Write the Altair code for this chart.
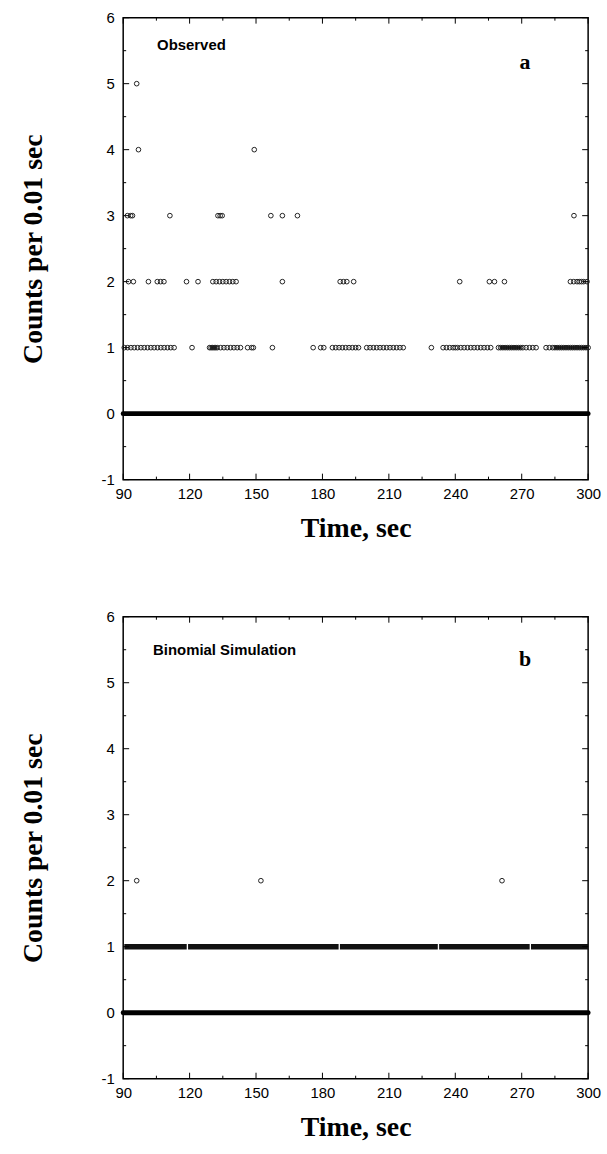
import altair as alt
import pandas as pd

# ---------------- data ----------------
X_TICKS = [90, 120, 150, 180, 210, 240, 270, 300]
X_MINOR = [105, 135, 165, 195, 225, 255, 285]
Y_TICKS = [-1, 0, 1, 2, 3, 4, 5, 6]
Y_MINOR = [-0.5, 0.5, 1.5, 2.5, 3.5, 4.5, 5.5]

# Observed (panel a): times (sec) of bins with a given count
obs_t5 = [96.1]
obs_t4 = [96.9, 149.2]
obs_t3 = [91.9, 93.4, 94.2, 111.1, 132.8, 133.8, 134.7, 156.7, 161.9, 168.7, 293.6]
obs_t2 = [92.4, 94.6, 101.4, 105.4, 106.9, 108.4, 118.6, 123.8,
          130.5, 132, 133.5, 135, 136.5, 138, 139.5, 141, 161.9,
          188, 189.5, 191, 194.1, 242, 255.4, 257.7, 262.2,
          292, 293.5, 295, 296, 297, 298, 299.5]
obs_t1 = [90.5, 92, 93.5, 95, 96.5, 98, 99.5, 101, 102.5, 104, 105.5, 107, 108.5, 110, 111.5, 113,
          121.1,
          129, 129.7, 130.4, 131.1, 131.8, 132.5, 134, 135.5, 137, 138.5, 140, 141.5, 143,
          146.2, 148, 148.8, 157.4,
          175.8, 179.2, 180.6,
          184.5, 186, 187.5, 189, 190.5, 192, 193.5, 195, 196.3,
          200, 201.5, 203, 204.5, 206, 207.5, 209, 210.5, 212, 213.5, 215, 216.5,
          229.2,
          234.5, 236, 237.5, 239, 240, 241, 242.5, 244, 245.5, 247, 248.5, 250, 251.5, 253, 254.5, 256,
          259.5, 260.5, 261.5, 262.5, 263.5, 264.5, 265.5, 266.5, 267.5, 268.5, 269.5, 270.5,
          272, 273.5, 275, 276.5,
          281, 282.5, 284, 285, 286, 287, 288, 289, 290, 291, 292, 293, 294, 295, 296, 297, 298, 299, 300]
# stretches where the count-1 circles overlap into a solid run
obs_band_start = [129.3, 260.0, 284.5]
obs_band_end = [132.3, 270.0, 299.5]

# Binomial simulation (panel b)
sim_t2 = [96.1, 152.2, 261.1]
sim_band_start = [90.5, 119.3, 187.9, 232.7, 274.2]
sim_band_end = [118.7, 187.3, 232.1, 273.6, 300.0]

# zero-count bins fill the whole record
zero_start = [90]
zero_end = [300]

W, H = 468, 465
MAJ, MIN = 6, 3

XS = alt.Scale(domain=[90, 300], nice=False, zero=False)
YS = alt.Scale(domain=[-1, 6], nice=False, zero=False)
AX_X = alt.Axis(values=X_TICKS, title="Time, sec", domain=False, ticks=False, tickSize=0,
                grid=False, labelPadding=7, titlePadding=13, labelFlush=False)
AX_Y = alt.Axis(values=Y_TICKS, title="Counts per 0.01 sec", domain=False, ticks=False, tickSize=0,
                grid=False, labelPadding=9, titlePadding=54, labelFlush=False,
                labelExpr="'' + datum.value")


def X(f):
    return alt.X(f, scale=XS, axis=AX_X)


def Y(f):
    return alt.Y(f, scale=YS, axis=AX_Y)


def points_df(series):
    rows = []
    for count, ts in series:
        for t in ts:
            rows.append({"t": t, "count": count})
    return pd.DataFrame(rows)


def panel(series, band_start, band_end, band_w, label, letter, label_xy, letter_xy):
    layers = []

    zero = alt.Chart(pd.DataFrame({"t0": zero_start, "t1": zero_end, "c": [0]})).mark_rule(
        strokeWidth=5, color="#000", strokeCap="round"
    ).encode(x=X("t0:Q"), x2="t1:Q", y=Y("c:Q"))
    layers.append(zero)

    if band_start:
        bands = alt.Chart(pd.DataFrame({"t0": band_start, "t1": band_end, "c": [1] * len(band_start)})).mark_rule(
            strokeWidth=band_w, color="#111", strokeCap="butt"
        ).encode(x=X("t0:Q"), x2="t1:Q", y=Y("c:Q"))
        layers.append(bands)

    pts = alt.Chart(points_df(series)).mark_point(
        shape="circle", filled=False, size=22, strokeWidth=1.0, color="#222", opacity=1
    ).encode(x=X("t:Q"), y=Y("count:Q"))
    layers.append(pts)

    # inward ticks on all four sides
    for vals, ln in ((X_TICKS, MAJ), (X_MINOR, MIN)):
        d = pd.DataFrame({"v": vals})
        layers.append(alt.Chart(d).mark_rule(color="black", strokeWidth=1).encode(
            x=X("v:Q"), y=alt.value(H), y2=alt.value(H - ln)))
        layers.append(alt.Chart(d).mark_rule(color="black", strokeWidth=1).encode(
            x=X("v:Q"), y=alt.value(0), y2=alt.value(ln)))
    for vals, ln in ((Y_TICKS, MAJ), (Y_MINOR, MIN)):
        d = pd.DataFrame({"v": vals})
        layers.append(alt.Chart(d).mark_rule(color="black", strokeWidth=1).encode(
            y=Y("v:Q"), x=alt.value(0), x2=alt.value(ln)))
        layers.append(alt.Chart(d).mark_rule(color="black", strokeWidth=1).encode(
            y=Y("v:Q"), x=alt.value(W), x2=alt.value(W - ln)))

    lab = alt.Chart(pd.DataFrame({"x": [label_xy[0]], "y": [label_xy[1]], "s": [label]})).mark_text(
        align="left", baseline="middle", font="Liberation Sans", fontWeight="bold", fontSize=15, color="black"
    ).encode(x=X("x:Q"), y=Y("y:Q"), text="s:N")
    let = alt.Chart(pd.DataFrame({"x": [letter_xy[0]], "y": [letter_xy[1]], "s": [letter]})).mark_text(
        align="center", baseline="alphabetic", font="Liberation Serif", fontWeight="bold", fontSize=22, color="black"
    ).encode(x=X("x:Q"), y=Y("y:Q"), text="s:N")
    layers += [lab, let]

    return alt.layer(*layers).properties(width=W, height=H)


top = panel(
    [(5, obs_t5), (4, obs_t4), (3, obs_t3), (2, obs_t2), (1, obs_t1)],
    obs_band_start, obs_band_end, 3.5, "Observed", "a", (105.3, 5.58), (271.5, 5.22))
bottom = panel(
    [(2, sim_t2)],
    sim_band_start, sim_band_end, 5.5, "Binomial Simulation", "b", (103.5, 5.5), (271.5, 5.25))

chart = alt.vconcat(top, bottom, spacing=66).properties(
    padding={"left": 18, "top": 6, "right": 5, "bottom": 5},
    background="white",
).configure_view(
    stroke="black", strokeWidth=1.5
).configure_axis(
    grid=False, ticks=False, domain=False,
    labelFont="Liberation Sans", labelFontSize=15, labelColor="black",
    titleFont="Liberation Serif", titleFontWeight="bold", titleFontSize=28, titleColor="black",
)

chart.save("out.html", embed_options={"renderer": "svg", "actions": False})
